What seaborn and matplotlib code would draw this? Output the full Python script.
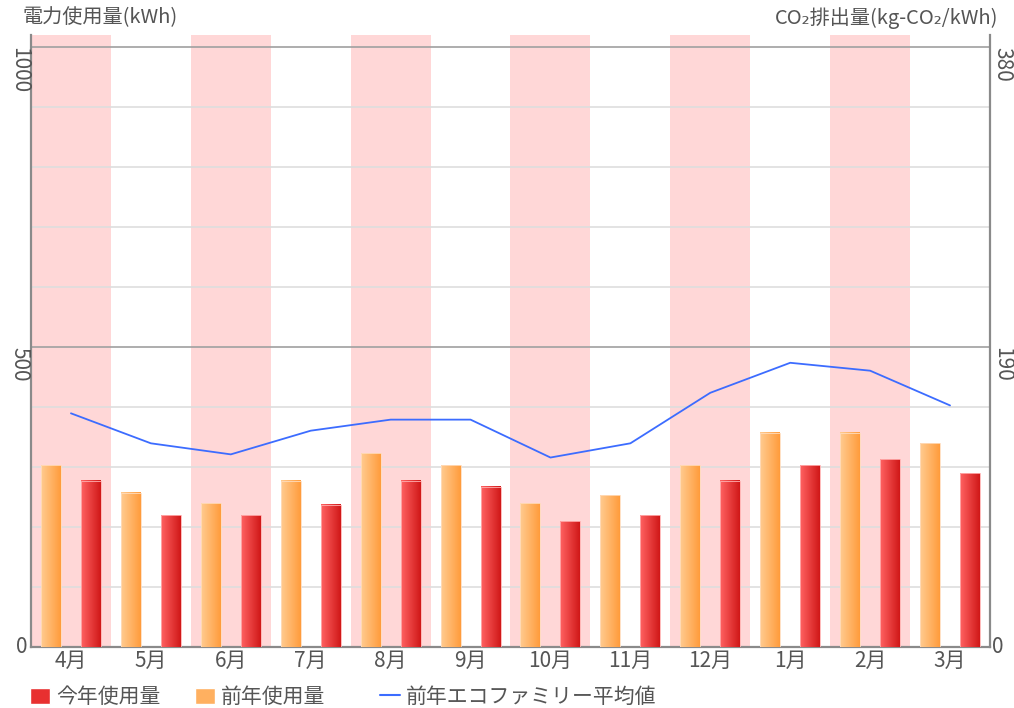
import numpy as np
import pandas as pd
import matplotlib
matplotlib.use("Agg")
import matplotlib.pyplot as plt
import seaborn as sns
from matplotlib.colors import LinearSegmentedColormap
from matplotlib.patches import Patch
from matplotlib.lines import Line2D

# data
months = ["4月", "5月", "6月", "7月", "8月", "9月", "10月", "11月", "12月", "1月", "2月", "3月"]
prev_year = [303, 257, 240, 277, 323, 303, 240, 253, 303, 357, 357, 340]   # 前年使用量 (kWh)
this_year = [277, 220, 220, 237, 277, 267, 210, 220, 277, 303, 313, 290]   # 今年使用量 (kWh)
eco_avg = [148, 129, 122, 137, 144, 144, 120, 129, 161, 180, 175, 153]     # 前年エコファミリー平均値 (right axis)

left_ticks = [0, 500, 1000]
right_ticks = [0, 190, 380]

sns.set_theme(style="white")
plt.rcParams["font.family"] = ["Noto Sans CJK JP", "DejaVu Sans"]

txt = "#555555"
red, orange, blue = "#e83030", "#ffb060", "#3c6cff"
FS = 15

df = pd.DataFrame({
    "month": months * 2,
    "kwh": prev_year + this_year,
    "kind": ["前年使用量"] * 12 + ["今年使用量"] * 12,
})

fig = plt.figure(figsize=(10.14, 7.08), dpi=100)
ax = fig.add_axes([31 / 1014, 61 / 708, 959 / 1014, 612 / 708])

sns.barplot(data=df, x="month", y="kwh", hue="kind", order=months,
            hue_order=["前年使用量", "今年使用量"],
            palette={"前年使用量": orange, "今年使用量": red},
            width=1.0, gap=0.5, legend=False, errorbar=None,
            ax=ax, zorder=3)

# horizontal gradient on each bar
grad = np.linspace(0, 1, 64).reshape(1, -1)
cm_red = LinearSegmentedColormap.from_list("r", ["#ff6262", "#d01818"])
cm_org = LinearSegmentedColormap.from_list("o", ["#ffcb90", "#ff9c3c"])
bars = list(ax.patches)
for b in bars:
    x0, y0, w, h = b.get_x(), b.get_y(), b.get_width(), b.get_height()
    fc = b.get_facecolor()
    is_red = fc[1] < 0.4
    ax.imshow(grad, extent=[x0, x0 + w, y0, y0 + h], aspect="auto",
              cmap=cm_red if is_red else cm_org, zorder=3)
    b.set_facecolor("none")
    b.set_edgecolor("#ffb0b0" if is_red else "#ffdcbc")
    b.set_linewidth(0.6)
    b.set_zorder(4)

ax.set_xlim(-0.5, 11.5)
ax.set_ylim(0, 1020)

# pink bands for alternate months
for i in range(0, 12, 2):
    ax.axvspan(i - 0.5, i + 0.5, color="#ffd7d7", lw=0, zorder=0)

for v in range(100, 1001, 100):
    ax.axhline(v, color="#a0a0a0" if v % 500 == 0 else "#dedede", lw=1.2, zorder=1)

ax.set_xlabel("")
ax.set_ylabel("")
ax.set_xticks(range(12))
ax.set_xticklabels(months, fontsize=FS, color=txt)
ax.tick_params(axis="x", length=0, pad=2)
ax.set_yticks([])

for s in ["left", "bottom"]:
    ax.spines[s].set_color("#8a8a8a")
    ax.spines[s].set_linewidth(1.6)
ax.spines["top"].set_visible(False)
ax.spines["right"].set_visible(False)

# right axis line
ax2 = ax.twinx()
sns.lineplot(x=np.arange(12), y=eco_avg, ax=ax2, color=blue, lw=1.3, zorder=5)
ax2.set_ylim(0, 380 * 1.02)
ax2.set_xlim(-0.5, 11.5)
ax2.set_yticks([])
ax2.set_ylabel("")
for s in ["left", "top", "bottom"]:
    ax2.spines[s].set_visible(False)
ax2.spines["right"].set_color("#8a8a8a")
ax2.spines["right"].set_linewidth(1.6)

# y tick labels (rotated like the original)
ly = ax.get_yaxis_transform()
for v in left_ticks:
    if v == 0:
        ax.text(-0.004, v, str(v), transform=ly, ha="right", va="center",
                fontsize=FS, color=txt)
    else:
        ax.text(-0.0125, v, str(v), transform=ly, ha="center", va="top",
                rotation=-90, fontsize=FS, color=txt)
ry = ax2.get_yaxis_transform()
for v in right_ticks:
    if v == 0:
        ax2.text(1.002, v, str(v), transform=ry, ha="left", va="center",
                 fontsize=FS, color=txt)
    else:
        ax2.text(1.0125, v, str(v), transform=ry, ha="center", va="top",
                 rotation=-90, fontsize=FS, color=txt)

fig.text(22 / 1014, 1 - 18 / 708, "電力使用量(kWh)", ha="left", va="center",
         fontsize=FS - 0.5, color=txt)
fig.text(998 / 1014, 1 - 18 / 708, "CO₂排出量(kg-CO₂/kWh)", ha="right", va="center",
         fontsize=FS - 0.5, color=txt)

# legend entries placed one by one, as in the original
entries = [
    (Patch(facecolor=red), "今年使用量", 30),
    (Patch(facecolor=orange), "前年使用量", 195),
    (Line2D([], [], color=blue, lw=1.5), "前年エコファミリー平均値", 380),
]
for h, lab, px in entries:
    fig.legend([h], [lab], loc="center left",
               bbox_to_anchor=(px / 1014, 1 - 697 / 708),
               frameon=False, fontsize=FS, labelcolor=txt,
               handlelength=0.95, handleheight=0.8, handletextpad=0.3,
               borderpad=0, borderaxespad=0)

fig.savefig("out.png", dpi=100)
